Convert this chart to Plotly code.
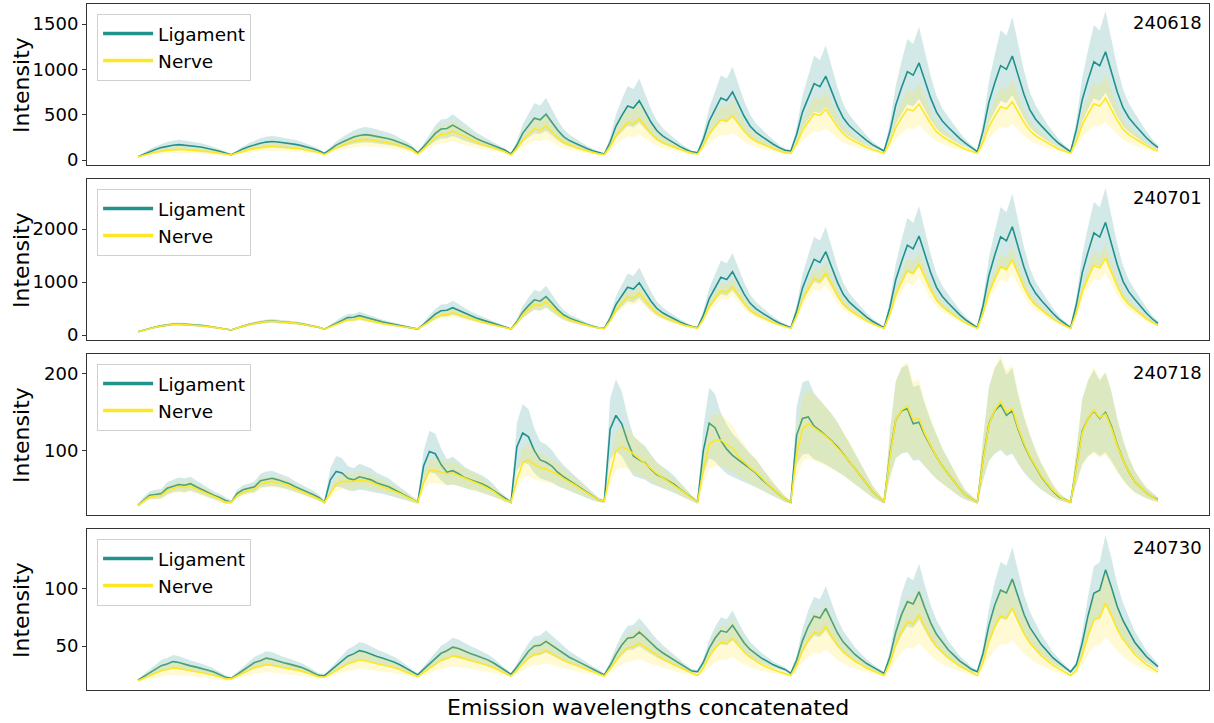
import plotly.graph_objects as go

# ---------------- data ----------------
sample_ids = ["240618", "240701", "240718", "240730"]
class_names = ["Ligament", "Nerve"]
x_title = "Emission wavelengths concatenated"
y_title = "Intensity"

ticks_240618 = [0, 500, 1000, 1500]
ticks_240701 = [0, 1000, 2000]
ticks_240718 = [100, 200]
ticks_240730 = [50, 100]

lig_mean_240618 = [
    37, 66, 96, 117, 137, 153, 163, 170, 165, 158, 150, 141, 129, 114, 97, 77,
    58, 90, 123, 146, 168, 186, 198, 205, 199, 192, 183, 173, 159, 143, 124, 102,
    72, 118, 164, 197, 228, 253, 270, 280, 272, 261, 249, 234, 216, 193, 166, 134,
    80, 147, 226, 294, 342, 348, 385, 348, 306, 269, 239, 211, 184, 156, 129, 107,
    66, 163, 294, 382, 461, 444, 505, 417, 329, 259, 215, 185, 154, 127, 103, 84,
    66, 196, 372, 490, 596, 573, 655, 537, 419, 325, 266, 225, 184, 148, 116, 90,
    80, 228, 429, 564, 685, 658, 752, 618, 483, 376, 308, 261, 214, 174, 137, 107,
    100, 282, 529, 694, 843, 810, 925, 760, 595, 463, 381, 323, 265, 216, 170, 133,
    100, 314, 605, 800, 975, 936, 1072, 878, 683, 528, 430, 362, 294, 236, 183, 139,
    92, 324, 641, 852, 1042, 1000, 1148, 937, 726, 557, 451, 377, 303, 240, 182, 134,
    92, 335, 666, 886, 1085, 1041, 1195, 974, 754, 577, 467, 390, 313, 246, 186, 136,
]
lig_sd_240618 = [
    4, 15, 26, 34, 41, 47, 51, 53, 51, 49, 46, 42, 38, 32, 26, 19,
    6, 18, 30, 39, 47, 53, 58, 60, 58, 56, 52, 49, 43, 37, 30, 22,
    7, 24, 41, 53, 65, 74, 80, 84, 81, 77, 72, 67, 60, 52, 42, 30,
    8, 33, 62, 87, 105, 107, 121, 107, 92, 78, 67, 56, 46, 36, 26, 18,
    7, 46, 98, 133, 165, 158, 183, 147, 112, 84, 67, 55, 42, 31, 22, 14,
    7, 59, 129, 177, 219, 210, 243, 195, 148, 111, 87, 71, 54, 40, 27, 17,
    8, 67, 148, 202, 250, 239, 277, 223, 169, 126, 99, 80, 62, 46, 31, 19,
    10, 83, 182, 248, 307, 294, 340, 274, 208, 155, 122, 99, 76, 56, 38, 23,
    10, 96, 212, 290, 360, 344, 399, 321, 243, 181, 142, 115, 88, 64, 43, 26,
    9, 102, 229, 313, 389, 372, 431, 347, 263, 195, 153, 123, 93, 68, 45, 26,
    9, 106, 239, 327, 406, 389, 450, 362, 274, 203, 159, 128, 97, 71, 47, 27,
]
nerve_mean_240618 = [
    37, 55, 73, 86, 98, 107, 114, 118, 115, 111, 106, 100, 93, 84, 73, 61,
    55, 76, 97, 112, 126, 138, 145, 150, 146, 141, 136, 129, 121, 110, 98, 84,
    60, 97, 134, 161, 186, 206, 220, 228, 221, 213, 203, 191, 176, 157, 136, 110,
    65, 121, 187, 244, 284, 289, 320, 289, 254, 223, 198, 175, 152, 129, 106, 88,
    55, 125, 221, 285, 343, 330, 375, 311, 247, 196, 164, 141, 119, 100, 82, 68,
    60, 146, 264, 343, 414, 398, 453, 374, 296, 233, 194, 166, 139, 115, 93, 76,
    65, 158, 284, 368, 444, 427, 486, 402, 318, 250, 208, 179, 149, 124, 101, 82,
    74, 181, 327, 424, 511, 492, 560, 463, 366, 288, 239, 205, 171, 142, 115, 93,
    74, 194, 357, 466, 564, 542, 618, 509, 400, 313, 259, 221, 183, 150, 120, 96,
    74, 199, 370, 484, 587, 564, 644, 530, 416, 325, 268, 228, 188, 154, 122, 97,
    74, 208, 390, 511, 620, 596, 681, 560, 438, 341, 280, 238, 195, 159, 126, 98,
]
nerve_sd_240618 = [
    4, 12, 19, 25, 30, 33, 36, 38, 37, 35, 33, 30, 28, 24, 19, 14,
    6, 15, 24, 30, 36, 41, 44, 46, 44, 42, 40, 37, 34, 29, 24, 18,
    6, 22, 37, 48, 59, 67, 73, 77, 74, 70, 66, 61, 55, 47, 38, 27,
    7, 31, 58, 82, 99, 101, 114, 101, 86, 73, 63, 53, 44, 34, 24, 17,
    6, 35, 76, 103, 127, 122, 140, 114, 87, 65, 52, 42, 33, 25, 17, 11,
    6, 42, 92, 125, 155, 148, 171, 138, 105, 79, 62, 51, 39, 29, 20, 13,
    7, 46, 99, 134, 166, 159, 184, 149, 113, 85, 67, 55, 42, 32, 22, 14,
    7, 52, 113, 154, 191, 183, 211, 170, 130, 97, 76, 62, 48, 36, 24, 15,
    7, 57, 126, 172, 213, 204, 235, 190, 144, 107, 85, 69, 53, 39, 26, 16,
    7, 60, 131, 179, 222, 213, 246, 199, 151, 112, 88, 72, 55, 41, 27, 17,
    7, 63, 140, 191, 236, 226, 262, 211, 160, 119, 94, 76, 58, 43, 29, 17,
]

lig_mean_240701 = [
    62, 95, 127, 151, 173, 191, 203, 210, 204, 197, 188, 177, 164, 148, 129, 106,
    95, 132, 170, 197, 223, 243, 257, 265, 258, 250, 240, 228, 212, 194, 172, 146,
    110, 166, 232, 289, 329, 334, 365, 334, 299, 268, 243, 220, 197, 174, 151, 133,
    113, 201, 306, 394, 459, 467, 515, 467, 410, 362, 322, 286, 250, 214, 177, 149,
    113, 248, 431, 554, 664, 639, 725, 603, 480, 382, 321, 278, 235, 199, 165, 137,
    126, 315, 574, 746, 901, 866, 987, 815, 643, 505, 419, 358, 298, 247, 199, 160,
    138, 371, 688, 899, 1089, 1047, 1195, 984, 772, 603, 497, 423, 349, 286, 228, 180,
    138, 453, 884, 1170, 1429, 1371, 1572, 1285, 998, 769, 626, 525, 425, 339, 260, 195,
    138, 519, 1038, 1384, 1695, 1626, 1868, 1522, 1176, 899, 726, 605, 484, 380, 285, 207,
    138, 557, 1129, 1510, 1853, 1777, 2044, 1663, 1282, 977, 786, 653, 519, 405, 300, 214,
    138, 575, 1172, 1569, 1927, 1848, 2126, 1728, 1331, 1013, 814, 675, 536, 416, 307, 218,
]
lig_sd_240701 = [
    6, 11, 16, 19, 23, 25, 27, 28, 27, 26, 25, 23, 21, 19, 16, 13,
    10, 16, 21, 25, 29, 32, 34, 36, 34, 33, 32, 30, 28, 25, 22, 18,
    11, 25, 42, 56, 66, 67, 75, 67, 58, 51, 44, 39, 33, 27, 21, 17,
    11, 37, 69, 95, 115, 117, 132, 117, 100, 86, 74, 63, 52, 41, 30, 22,
    11, 54, 113, 152, 187, 179, 207, 168, 128, 97, 78, 64, 50, 39, 28, 19,
    13, 73, 156, 211, 261, 250, 289, 233, 178, 134, 107, 87, 68, 52, 36, 24,
    14, 89, 190, 258, 318, 305, 352, 285, 217, 163, 129, 105, 82, 61, 43, 27,
    14, 115, 253, 344, 427, 409, 473, 381, 289, 216, 170, 138, 106, 78, 53, 32,
    14, 136, 302, 413, 512, 490, 568, 457, 346, 258, 202, 163, 125, 91, 61, 36,
    14, 148, 331, 453, 563, 538, 624, 502, 380, 282, 221, 179, 136, 99, 66, 38,
    14, 154, 345, 472, 586, 561, 650, 523, 396, 294, 230, 186, 141, 103, 68, 40,
]
nerve_mean_240701 = [
    62, 93, 125, 148, 169, 186, 198, 205, 199, 192, 184, 174, 161, 145, 126, 105,
    95, 131, 168, 194, 219, 239, 252, 260, 253, 245, 235, 224, 209, 191, 169, 145,
    110, 155, 208, 254, 286, 290, 315, 290, 262, 237, 217, 198, 180, 161, 143, 128,
    113, 181, 261, 329, 378, 384, 421, 384, 341, 304, 273, 245, 218, 190, 162, 141,
    113, 226, 381, 484, 577, 556, 628, 525, 422, 340, 288, 252, 216, 185, 157, 134,
    120, 267, 467, 600, 720, 694, 787, 654, 520, 413, 347, 300, 253, 213, 177, 147,
    125, 298, 534, 692, 833, 802, 912, 755, 597, 471, 393, 337, 282, 235, 192, 156,
    125, 354, 665, 873, 1060, 1019, 1164, 956, 748, 582, 478, 406, 333, 270, 213, 167,
    125, 391, 754, 995, 1213, 1165, 1334, 1092, 850, 657, 536, 451, 367, 294, 228, 173,
    125, 409, 796, 1054, 1286, 1234, 1415, 1157, 899, 693, 564, 473, 383, 306, 235, 177,
    125, 417, 814, 1079, 1318, 1265, 1450, 1185, 920, 708, 576, 483, 390, 311, 238, 178,
]
nerve_sd_240701 = [
    6, 10, 14, 16, 19, 21, 22, 23, 22, 22, 21, 19, 18, 16, 14, 11,
    10, 14, 19, 22, 25, 27, 29, 30, 29, 28, 27, 25, 24, 22, 19, 16,
    11, 20, 31, 40, 46, 47, 52, 47, 41, 36, 32, 29, 25, 21, 18, 15,
    11, 25, 41, 54, 64, 65, 73, 65, 57, 49, 43, 37, 32, 26, 21, 17,
    11, 34, 65, 85, 104, 100, 114, 93, 73, 56, 46, 39, 32, 25, 20, 15,
    12, 41, 81, 108, 132, 127, 145, 119, 92, 71, 57, 48, 39, 31, 23, 17,
    12, 47, 94, 125, 154, 147, 169, 138, 106, 81, 66, 54, 43, 34, 25, 18,
    12, 58, 120, 162, 199, 191, 220, 178, 137, 103, 83, 68, 54, 41, 30, 20,
    12, 65, 138, 186, 230, 220, 254, 205, 157, 118, 94, 77, 60, 46, 33, 22,
    12, 69, 146, 198, 244, 234, 270, 218, 167, 126, 100, 82, 64, 48, 34, 22,
    12, 70, 150, 203, 251, 240, 277, 224, 171, 129, 102, 84, 65, 49, 35, 23,
]

lig_mean_240718 = [
    29, 36, 42, 43, 44, 51, 54, 56, 55, 57, 53, 49, 46, 42, 39, 35,
    33, 44, 49, 51, 53, 61, 63, 64, 62, 60, 57, 53, 50, 47, 43, 39,
    33, 62, 73, 71, 64, 62, 66, 64, 62, 58, 56, 53, 49, 45, 41, 37,
    33, 80, 99, 96, 82, 72, 74, 70, 65, 62, 60, 57, 53, 48, 42, 37,
    33, 105, 123, 118, 100, 88, 85, 80, 72, 66, 61, 56, 51, 45, 40, 36,
    34, 128, 146, 135, 112, 93, 88, 84, 76, 69, 65, 61, 56, 50, 44, 38,
    33, 100, 136, 130, 113, 102, 94, 88, 82, 76, 71, 63, 56, 49, 43, 37,
    33, 120, 142, 144, 132, 126, 120, 113, 105, 96, 87, 77, 67, 57, 47, 40,
    33, 95, 140, 152, 155, 135, 137, 120, 105, 92, 80, 70, 60, 50, 42, 37,
    33, 90, 135, 152, 160, 146, 152, 128, 108, 92, 78, 66, 56, 47, 40, 36,
    33, 80, 125, 142, 152, 142, 150, 132, 108, 88, 72, 60, 52, 45, 40, 36,
]
lig_sd_240718 = [
    2, 4, 5, 6, 6, 8, 8, 9, 9, 9, 8, 7, 6, 5, 5, 4,
    2, 5, 6, 6, 7, 9, 10, 10, 9, 9, 8, 7, 6, 6, 5, 4,
    2, 15, 20, 19, 16, 15, 17, 16, 15, 13, 12, 11, 9, 7, 6, 4,
    2, 20, 27, 26, 21, 17, 18, 16, 14, 13, 12, 11, 10, 8, 5, 4,
    2, 31, 38, 36, 29, 24, 23, 21, 18, 15, 13, 11, 9, 7, 5, 3,
    2, 40, 47, 42, 33, 26, 24, 22, 19, 16, 14, 13, 11, 8, 6, 4,
    2, 31, 46, 44, 36, 32, 28, 26, 23, 20, 18, 15, 12, 9, 6, 4,
    2, 38, 47, 48, 43, 40, 38, 35, 32, 28, 24, 20, 16, 12, 8, 5,
    2, 30, 50, 56, 57, 48, 49, 41, 34, 29, 23, 19, 14, 10, 6, 4,
    2, 28, 48, 56, 59, 53, 56, 45, 36, 29, 22, 17, 12, 8, 5, 3,
    2, 22, 42, 49, 53, 49, 52, 45, 34, 26, 19, 14, 10, 7, 5, 3,
]
nerve_mean_240718 = [
    29, 34, 40, 41, 42, 48, 51, 53, 52, 54, 50, 47, 44, 40, 37, 33,
    33, 41, 46, 48, 50, 57, 59, 60, 58, 57, 54, 50, 47, 44, 41, 37,
    33, 44, 56, 60, 60, 60, 62, 61, 59, 56, 54, 51, 48, 44, 40, 36,
    33, 58, 74, 74, 72, 70, 71, 68, 64, 61, 58, 55, 51, 47, 41, 36,
    33, 62, 84, 88, 82, 78, 76, 73, 69, 64, 60, 55, 50, 45, 40, 36,
    34, 70, 100, 105, 102, 96, 90, 84, 77, 70, 65, 60, 55, 50, 44, 38,
    33, 75, 108, 114, 114, 108, 103, 93, 85, 78, 72, 64, 57, 50, 43, 37,
    33, 95, 128, 135, 130, 125, 119, 112, 104, 96, 87, 77, 67, 57, 47, 40,
    33, 92, 140, 153, 158, 140, 142, 122, 106, 92, 80, 70, 60, 50, 42, 37,
    33, 88, 134, 153, 164, 150, 155, 130, 110, 93, 79, 67, 57, 48, 41, 36,
    33, 78, 123, 142, 153, 143, 148, 130, 107, 88, 72, 60, 52, 45, 40, 35,
]
nerve_sd_240718 = [
    2, 3, 4, 4, 5, 6, 6, 7, 7, 7, 6, 6, 5, 4, 4, 3,
    2, 4, 5, 5, 5, 7, 7, 7, 7, 7, 6, 5, 5, 4, 4, 3,
    2, 5, 9, 10, 10, 10, 11, 10, 10, 9, 8, 7, 7, 5, 4, 3,
    2, 11, 16, 16, 16, 15, 15, 14, 13, 12, 11, 10, 8, 7, 5, 3,
    2, 12, 20, 21, 19, 18, 17, 16, 15, 13, 11, 10, 8, 6, 4, 3,
    2, 15, 25, 27, 26, 24, 22, 20, 17, 15, 13, 11, 9, 8, 6, 3,
    2, 19, 32, 34, 34, 32, 30, 26, 23, 20, 18, 14, 12, 9, 6, 4,
    2, 28, 42, 45, 43, 41, 38, 35, 32, 28, 25, 20, 16, 12, 8, 5,
    2, 29, 50, 56, 58, 50, 51, 42, 35, 29, 23, 19, 14, 10, 6, 4,
    2, 27, 47, 56, 61, 55, 57, 46, 37, 29, 23, 17, 13, 9, 6, 3,
    2, 22, 43, 51, 56, 52, 54, 46, 35, 27, 20, 14, 11, 7, 5, 3,
]

lig_mean_240730 = [
    20.5, 23.7, 26.9, 30.1, 33.0, 34.4, 36.5, 35.7, 34.1, 32.8, 31.7, 30.6, 29.1, 27.4, 25.3, 22.9,
    22.0, 25.5, 29.0, 32.5, 35.7, 37.2, 39.5, 38.6, 36.9, 35.5, 34.3, 33.0, 31.5, 29.5, 27.3, 24.6,
    24.3, 28.6, 33.0, 37.3, 41.2, 43.2, 46.0, 44.9, 42.7, 41.0, 39.5, 38.0, 36.0, 33.6, 30.8, 27.6,
    25.0, 29.8, 34.6, 39.4, 43.7, 45.9, 49.0, 47.8, 45.4, 43.5, 41.8, 40.1, 38.0, 35.3, 32.2, 28.6,
    25.5, 31.8, 39.2, 45.5, 50.0, 50.6, 54.0, 50.6, 46.6, 43.2, 40.3, 37.8, 35.2, 32.6, 30.1, 28.1,
    25.0, 33.1, 42.8, 50.9, 56.8, 57.6, 62.0, 57.6, 52.4, 47.9, 44.2, 40.9, 37.6, 34.3, 30.9, 28.3,
    27.7, 35.8, 47.9, 56.7, 63.2, 62.0, 68.0, 59.9, 52.7, 47.0, 43.0, 39.4, 36.6, 33.7, 31.7, 29.7,
    26.3, 37.6, 54.5, 66.9, 75.9, 74.2, 82.7, 71.4, 61.3, 53.4, 47.7, 42.7, 38.7, 34.8, 31.9, 29.1,
    26.3, 40.4, 61.7, 77.2, 88.5, 86.4, 97.0, 82.9, 70.1, 60.2, 53.2, 46.8, 41.9, 36.9, 33.4, 29.8,
    27.7, 43.8, 67.9, 85.5, 98.4, 96.0, 108.0, 91.9, 77.5, 66.2, 58.2, 51.0, 45.4, 39.7, 35.7, 31.7,
    27.7, 33.9, 52.4, 76.3, 95.7, 98.3, 116.0, 101.0, 84.2, 71.9, 62.1, 53.3, 47.1, 40.9, 36.5, 32.1,
]
lig_sd_240730 = [
    1.0, 2.0, 2.9, 3.9, 4.8, 5.2, 5.8, 5.6, 5.1, 4.7, 4.4, 4.0, 3.6, 3.1, 2.4, 1.7,
    1.0, 2.1, 3.1, 4.2, 5.1, 5.6, 6.3, 6.0, 5.5, 5.1, 4.7, 4.3, 3.9, 3.3, 2.6, 1.8,
    1.0, 2.3, 3.6, 4.9, 6.1, 6.7, 7.5, 7.2, 6.5, 6.0, 5.6, 5.1, 4.5, 3.8, 3.0, 2.0,
    1.0, 2.4, 3.9, 5.3, 6.6, 7.3, 8.2, 7.8, 7.1, 6.6, 6.0, 5.5, 4.9, 4.1, 3.2, 2.1,
    1.0, 2.9, 5.1, 7.0, 8.4, 8.5, 9.6, 8.5, 7.3, 6.3, 5.4, 4.7, 3.9, 3.1, 2.4, 1.8,
    1.0, 3.4, 6.3, 8.8, 10.5, 10.8, 12.1, 10.8, 9.2, 7.9, 6.8, 5.8, 4.8, 3.8, 2.8, 2.0,
    1.0, 3.4, 7.1, 9.7, 11.7, 11.3, 13.1, 10.7, 8.5, 6.8, 5.6, 4.5, 3.7, 2.8, 2.2, 1.6,
    1.0, 4.6, 10.0, 14.0, 16.9, 16.3, 19.0, 15.4, 12.2, 9.7, 7.8, 6.2, 5.0, 3.7, 2.8, 1.9,
    1.0, 5.7, 12.7, 17.8, 21.5, 20.8, 24.3, 19.7, 15.5, 12.2, 9.9, 7.8, 6.1, 4.5, 3.3, 2.2,
    1.0, 6.3, 14.3, 20.1, 24.3, 23.5, 27.5, 22.2, 17.4, 13.7, 11.1, 8.7, 6.8, 5.0, 3.6, 2.3,
    1.0, 3.0, 9.2, 17.0, 23.4, 24.3, 30.1, 25.2, 19.6, 15.6, 12.4, 9.4, 7.4, 5.4, 3.9, 2.5,
]
nerve_mean_240730 = [
    20.0, 22.2, 24.4, 26.6, 28.6, 29.6, 31.0, 30.5, 29.4, 28.5, 27.7, 26.9, 25.9, 24.7, 23.3, 21.7,
    21.5, 24.0, 26.5, 29.0, 31.3, 32.4, 34.0, 33.4, 32.1, 31.1, 30.3, 29.4, 28.3, 26.9, 25.3, 23.4,
    23.0, 26.0, 29.0, 32.0, 34.7, 36.1, 38.0, 37.3, 35.8, 34.6, 33.5, 32.5, 31.1, 29.5, 27.5, 25.3,
    23.5, 27.1, 30.7, 34.3, 37.5, 39.2, 41.5, 40.6, 38.8, 37.4, 36.1, 34.8, 33.2, 31.2, 28.9, 26.2,
    24.0, 28.8, 34.6, 39.4, 42.9, 43.4, 46.0, 43.4, 40.3, 37.6, 35.4, 33.5, 31.5, 29.5, 27.5, 26.0,
    24.0, 30.3, 37.7, 44.0, 48.5, 49.1, 52.5, 49.1, 45.1, 41.7, 38.8, 36.3, 33.7, 31.1, 28.6, 26.6,
    24.5, 31.0, 40.8, 47.9, 53.1, 52.1, 57.0, 50.5, 44.7, 40.1, 36.9, 33.9, 31.7, 29.4, 27.8, 26.1,
    24.5, 33.0, 45.8, 55.1, 61.9, 60.6, 67.0, 58.5, 50.9, 44.9, 40.7, 36.8, 33.9, 30.9, 28.8, 26.6,
    24.5, 35.0, 50.8, 62.3, 70.7, 69.1, 77.0, 66.5, 57.1, 49.7, 44.5, 39.7, 36.1, 32.4, 29.8, 27.1,
    24.5, 36.2, 53.8, 66.6, 76.0, 74.2, 83.0, 71.3, 60.8, 52.6, 46.7, 41.5, 37.4, 33.3, 30.4, 27.4,
    24.5, 28.9, 42.0, 58.9, 72.6, 74.5, 87.0, 76.4, 64.5, 55.8, 48.9, 42.6, 38.3, 33.9, 30.8, 27.6,
]
nerve_sd_240730 = [
    1.0, 2.0, 3.0, 4.0, 4.9, 5.3, 6.0, 5.7, 5.2, 4.8, 4.5, 4.1, 3.7, 3.1, 2.5, 1.8,
    1.0, 2.1, 3.3, 4.4, 5.4, 5.9, 6.6, 6.4, 5.8, 5.3, 5.0, 4.6, 4.1, 3.4, 2.7, 1.9,
    1.0, 2.4, 3.7, 5.1, 6.3, 6.9, 7.8, 7.4, 6.8, 6.2, 5.7, 5.3, 4.6, 3.9, 3.0, 2.0,
    1.0, 2.6, 4.2, 5.9, 7.3, 8.1, 9.1, 8.7, 7.9, 7.3, 6.7, 6.1, 5.4, 4.5, 3.4, 2.2,
    1.0, 3.2, 5.8, 7.9, 9.5, 9.7, 10.9, 9.7, 8.3, 7.1, 6.1, 5.3, 4.4, 3.5, 2.6, 1.9,
    1.0, 3.8, 7.2, 10.0, 12.0, 12.3, 13.8, 12.3, 10.5, 9.0, 7.7, 6.5, 5.4, 4.2, 3.1, 2.2,
    1.0, 4.1, 8.8, 12.2, 14.7, 14.2, 16.6, 13.5, 10.7, 8.5, 7.0, 5.5, 4.5, 3.4, 2.6, 1.8,
    1.0, 4.8, 10.6, 14.8, 17.8, 17.2, 20.1, 16.3, 12.9, 10.2, 8.3, 6.5, 5.2, 3.9, 2.9, 1.9,
    1.0, 5.7, 12.8, 18.0, 21.8, 21.1, 24.6, 19.9, 15.7, 12.3, 10.0, 7.8, 6.2, 4.6, 3.4, 2.2,
    1.0, 6.3, 14.2, 19.9, 24.2, 23.4, 27.3, 22.1, 17.3, 13.6, 11.0, 8.7, 6.8, 5.0, 3.7, 2.3,
    1.0, 3.0, 8.9, 16.5, 22.6, 23.5, 29.1, 24.4, 19.0, 15.1, 12.0, 9.1, 7.2, 5.2, 3.8, 2.4,
]

# ---------------- figure ----------------
LIG_COLOR = "#21918c"
NERVE_COLOR = "#fde725"
LIG_FILL = "rgba(33,145,140,0.2)"
NERVE_FILL = "rgba(253,231,37,0.2)"
FONT = "DejaVu Sans, Liberation Sans, sans-serif"
AXIS_COLOR = "#333333"

panels = [
    (lig_mean_240618, lig_sd_240618, nerve_mean_240618, nerve_sd_240618, ticks_240618, [-55, 1722]),
    (lig_mean_240701, lig_sd_240701, nerve_mean_240701, nerve_sd_240701, ticks_240701, [-94, 2944]),
    (lig_mean_240718, lig_sd_240718, nerve_mean_240718, nerve_sd_240718, ticks_240718, [16.2, 226]),
    (lig_mean_240730, lig_sd_240730, nerve_mean_240730, nerve_sd_240730, ticks_240730, [11.9, 151.4]),
]
y_domains = [[0.7653, 1.0], [0.5102, 0.7449], [0.2551, 0.4898], [0.0, 0.2347]]
legend_tops = [0.9854, 0.7303, 0.4752, 0.2201]

fig = go.Figure()
layout = dict(
    width=1214, height=723,
    margin=dict(l=87, r=5, t=4, b=33),
    paper_bgcolor="white", plot_bgcolor="white",
    font=dict(family=FONT, size=18, color="black"),
    showlegend=True,
)
annotations = []

for i, (lm, ls, nm, ns, tvals, yr) in enumerate(panels):
    n = len(lm)
    idx = list(range(n))
    xa = "x" if i == 0 else f"x{i + 1}"
    ya = "y" if i == 0 else f"y{i + 1}"
    leg = "legend" if i == 0 else f"legend{i + 1}"
    for (mean, sd, color, fillc) in [(lm, ls, LIG_COLOR, LIG_FILL), (nm, ns, NERVE_COLOR, NERVE_FILL)]:
        upper = [m + s for m, s in zip(mean, sd)]
        lower = [m - s for m, s in zip(mean, sd)]
        fig.add_trace(go.Scatter(
            x=idx + idx[::-1], y=upper + lower[::-1], fill="toself", fillcolor=fillc,
            line=dict(width=0), mode="lines", hoverinfo="skip", showlegend=False,
            xaxis=xa, yaxis=ya))
        fig.add_trace(go.Scatter(
            x=idx, y=mean, mode="lines", line=dict(color=color, width=1.6),
            showlegend=False, xaxis=xa, yaxis=ya))
    for name, color in zip(class_names, [LIG_COLOR, NERVE_COLOR]):
        fig.add_trace(go.Scatter(
            x=[None], y=[None], mode="lines", line=dict(color=color, width=3.5),
            name=name, legend=leg, xaxis=xa, yaxis=ya))

    xkey = "xaxis" if i == 0 else f"xaxis{i + 1}"
    ykey = "yaxis" if i == 0 else f"yaxis{i + 1}"
    layout[xkey] = dict(
        domain=[0, 1], anchor=ya, range=[-8.75, n - 1 + 8.75],
        showticklabels=False, ticks="", showgrid=False, zeroline=False,
        showline=True, mirror=True, linecolor=AXIS_COLOR, linewidth=1)
    layout[ykey] = dict(
        domain=y_domains[i], anchor=xa, range=yr, tickvals=tvals,
        ticks="outside", ticklen=4, tickwidth=1, tickcolor=AXIS_COLOR,
        tickfont=dict(family=FONT, size=18, color="black"),
        showgrid=False, zeroline=False,
        showline=True, mirror=True, linecolor=AXIS_COLOR, linewidth=1)
    layout[leg] = dict(
        x=0.009, y=legend_tops[i], xanchor="left", yanchor="top",
        bgcolor="rgba(255,255,255,0.8)", bordercolor="#d0d0d0", borderwidth=1,
        itemwidth=50,
        font=dict(family=FONT, size=18.5, color="black"), tracegroupgap=0)

    annotations.append(dict(
        text=sample_ids[i], xref=f"{xa} domain", yref=f"{ya} domain",
        x=0.9955, y=0.96, xanchor="right", yanchor="top", showarrow=False,
        font=dict(family=FONT, size=18, color="black")))
    yc = (y_domains[i][0] + y_domains[i][1]) / 2
    annotations.append(dict(
        text=y_title, xref="paper", yref="paper", x=-0.0584, y=yc,
        xanchor="center", yanchor="middle", textangle=-90, showarrow=False,
        font=dict(family=FONT, size=22, color="black")))

annotations.append(dict(
    text=x_title, xref="paper", yref="paper", x=0.5, y=-0.0248,
    xanchor="center", yanchor="middle", showarrow=False,
    font=dict(family=FONT, size=22, color="black")))
layout["annotations"] = annotations
fig.update_layout(**layout)

fig.write_html("out.html")
